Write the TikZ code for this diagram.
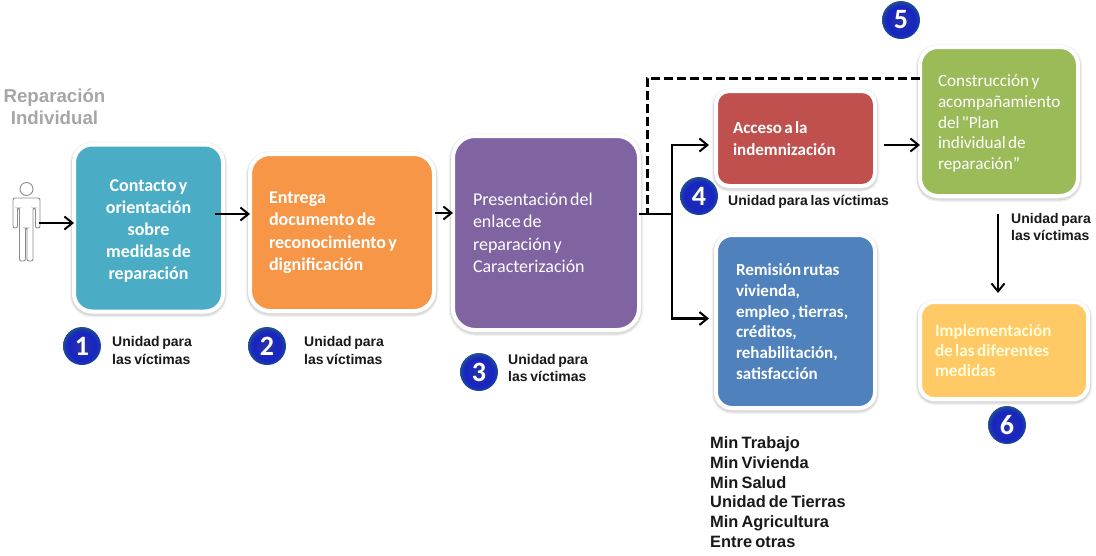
\documentclass[tikz,border=0pt]{standalone}
\usepackage{fontspec}
\setmainfont[WordSpace=0.6]{Carlito}
\newfontfamily\plainq[WordSpace=0.6]{Carlito}
\newfontfamily\arialf[WordSpace=0.7]{Liberation Sans}
\usetikzlibrary{arrows.meta,calc}
\definecolor{cTeal}{HTML}{4BACC6}
\definecolor{cOrange}{HTML}{F79646}
\definecolor{cPurple}{HTML}{8064A2}
\definecolor{cRed}{HTML}{C0504D}
\definecolor{cBlue}{HTML}{4F81BD}
\definecolor{cGreen}{HTML}{9BBB59}
\definecolor{cYellow}{HTML}{FFC966}
\pgfdeclareradialshading{badgeball}{\pgfpoint{0bp}{-1bp}}{%
  color(0bp)=(rgb:red,0.24;green,0.33;blue,0.98);
  color(13bp)=(rgb:red,0.13;green,0.19;blue,0.88);
  color(18bp)=(rgb:red,0.07;green,0.10;blue,0.55);
  color(22bp)=(rgb:red,0.04;green,0.09;blue,0.30);
  color(25bp)=(rgb:red,0.10;green,0.22;blue,0.38);
  color(50bp)=(rgb:red,0.10;green,0.22;blue,0.38)}
\tikzset{
  x=1pt,y=-1pt,
  card/.style={draw=white,line width=4pt,rounded corners=#1,outer sep=0pt,inner ysep=0pt,
    preaction={draw=black,draw opacity=.05,line width=8.5pt,transform canvas={yshift=-1.5pt}},
    preaction={draw=black,draw opacity=.09,line width=6pt,transform canvas={yshift=-1.5pt}},
    text=white},
  card/.default=18pt,
  badge/.style={circle,minimum size=38pt,inner sep=0pt,shading=badgeball,
    text=white,font=\fontsize{28}{28}\selectfont\bfseries},
  who/.style={anchor=north west,inner sep=0pt,align=flush left,font=\arialf\fontsize{14}{17.5}\selectfont\bfseries,text=black!90},
  conn/.style={draw=black,line width=2.2pt,-{Straight Barb[length=8pt,width=13pt,line width=2pt]}},
  plainconn/.style={draw=black,line width=2.2pt},
  dashconn/.style={draw=black,line width=3pt,dash pattern=on 9pt off 4pt},
}
\begin{document}
\begin{tikzpicture}
\useasboundingbox (0,0) rectangle (1096,555);
\fill[white] (0,0) rectangle (1096,555);
% title
\node[align=center,inner sep=0pt,text=black!35,font=\arialf\fontsize{18.7}{22}\selectfont\bfseries] (title) at (54.5,107) {Reparación\\Individual};
% person
\node[circle,draw=black!45,line width=.9pt,minimum size=13pt,inner sep=0pt] (head) at (26.5,189) {};
\draw[draw=black!45,line width=.9pt,rounded corners=2pt,fill=white]
 (13,198)--(40,198)--(40,228)--(35.5,228)--(35.5,208)--(33,208)--(33,261)--(27,261)--(27,228)--(25.5,228)--(25.5,261)--(19.5,261)--(19.5,208)--(17.5,208)--(17.5,228)--(13,228)--cycle;
\coordinate (person) at (39,223);
% boxes
\node[card,fill=cTeal,minimum width=149pt,minimum height=167pt,align=center,font=\fontsize{18}{22}\selectfont\bfseries] (n1) at (148.5,228) {\rule{0pt}{17pt}Contacto y\\orientación\\sobre\\medidas de\\reparación};
\node[card=20pt,fill=cOrange,minimum width=184pt,minimum height=157pt,inner xsep=19pt,text width=146pt,align=flush left,font=\fontsize{18}{22.5}\selectfont\bfseries] (n2) at (342,232.5) {Entrega\\documento de\\reconocimiento y\\dignificación};
\node[card=22pt,fill=cPurple,minimum width=186pt,minimum height=194pt,inner xsep=20pt,text width=146pt,align=flush left,font=\fontsize{18}{22.5}\selectfont] (n3) at (546,233) {Presentación del\\enlace de\\reparación y\\Caracterización};
\node[card=13pt,fill=cRed,minimum width=159pt,minimum height=95pt,inner xsep=17pt,text width=125pt,align=flush left,font=\fontsize{17}{21.5}\selectfont\bfseries] (n4) at (795.5,138.5) {Acceso a la\\indemnización};
\node[card=16pt,fill=cBlue,minimum width=159pt,minimum height=173pt,inner xsep=20pt,text width=119pt,align=flush left,font=\fontsize{17}{20.7}\selectfont\bfseries] (n4b) at (795.5,321.5) {Remisión rutas\\vivienda,\\empleo , tierras,\\créditos,\\rehabilitación,\\satisfacción};
\node[card=18pt,fill=cGreen,minimum width=158pt,minimum height=149pt,inner xsep=18pt,text width=122pt,align=flush left,font=\fontsize{17.2}{20.7}\selectfont] (n5) at (999,121.5) {\rule{0pt}{16pt}Construcción y\\acompañamiento\\del {\plainq"}Plan\\individual de\\reparación”};
\node[card=14pt,fill=cYellow,minimum width=168pt,minimum height=97pt,inner xsep=15pt,text width=138pt,align=flush left,text=white!85!yellow,font=\fontsize{17.2}{20.3}\selectfont\bfseries] (n6) at (1004,350.5) {Implementación\\de las diferentes\\medidas};
% connectors
\coordinate (jd) at (647,214);
\coordinate (jv) at (672,214);
\draw[conn] (person) -- ([yshift=5pt]n1.west);
\draw[conn] ([xshift=-8pt,yshift=14pt]n1.east) -- ([yshift=18.5pt]n2.west);
\draw[conn] ([xshift=1pt,yshift=19.5pt]n2.east) -- ([yshift=20pt]n3.west);
\draw[plainconn] ([yshift=19pt]n3.east) -- (jv);
\draw[dashconn] ([yshift=43.5pt]n5.west) -| (jd);
\draw[conn] (jv) |- ([xshift=-7pt,yshift=-6.5pt]n4.west);
\draw[conn] (jv) |- ([xshift=-7pt,yshift=3pt]n4b.west);
\draw[conn] ([xshift=9pt,yshift=-6.5pt]n4.east) -- ([yshift=-23.5pt]n5.west);
\draw[conn] ([xshift=-1pt,yshift=-18pt]n5.south) -- ([xshift=-6pt,yshift=9pt]n6.north);
% badges
\node[badge] (b1) at (82,346) {1};
\node[badge] (b2) at (267,346) {2};
\node[badge] (b3) at (479,372) {3};
\node[badge] (b4) at (699,196) {4};
\node[badge] (b5) at (901,20) {5};
\node[badge] (b6) at (1007,425) {6};
% labels
\node[who] (w1) at (112,336.5) {Unidad para\\las víctimas};
\node[who] (w2) at (304,336.5) {Unidad para\\las víctimas};
\node[who] (w3) at (508,354) {Unidad para\\las víctimas};
\node[who] (w4) at (728,195.5) {Unidad para las víctimas};
\node[who] (w5) at (1011,213) {Unidad para\\las víctimas};
\node[who,font=\arialf\fontsize{16.4}{19.8}\selectfont\bfseries] (w6) at (710,436.5) {Min Trabajo\\Min Vivienda\\Min Salud\\Unidad de Tierras\\Min Agricultura\\Entre otras};
\end{tikzpicture}
\end{document}
